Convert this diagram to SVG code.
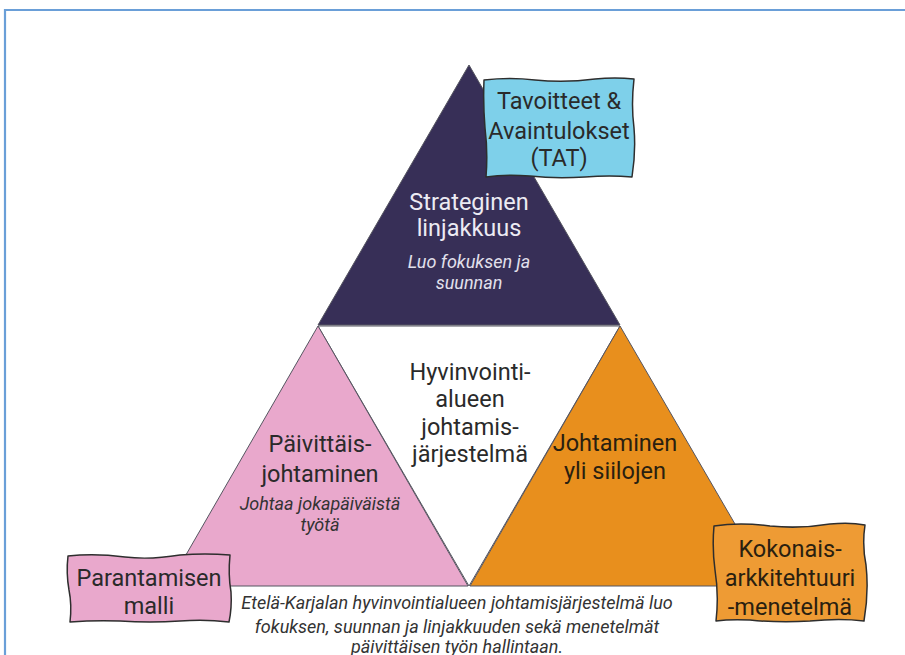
<svg xmlns="http://www.w3.org/2000/svg" width="905" height="655" viewBox="0 0 905 655">
<style>
.t{font-family:Roboto,"Liberation Sans",sans-serif;font-size:23.5px;text-anchor:middle;fill:#2a2a2a}
.w{fill:#ecebf3}
.i{font-family:Roboto,"Liberation Sans",sans-serif;font-style:italic;font-size:18px;text-anchor:middle;fill:#333}
.tri{stroke:#555560;stroke-width:1}
.box{stroke:#2e2e2e;stroke-width:1.5;stroke-linejoin:round}
</style>
<rect width="905" height="655" fill="#ffffff"/>
<path d="M5,655 L5,10 L905,10" fill="none" stroke="#6a9fd8" stroke-width="2.2"/>
<g id="strateginen">
<polygon class="tri" points="469,65 620,325 318,325" fill="#372f57"/>
<text class="t w" x="469" y="210">Strateginen</text>
<text class="t w" x="469" y="236">linjakkuus</text>
<text class="i" x="469" y="268" style="fill:#e2e0ec">Luo fokuksen ja</text>
<text class="i" x="469" y="289" style="fill:#e2e0ec">suunnan</text>
</g>
<g id="keskus">
<polygon class="tri" points="318,326 620,326 469,586" fill="#ffffff"/>
<text class="t" x="470" y="380">Hyvinvointi-</text>
<text class="t" x="470" y="407">alueen</text>
<text class="t" x="470" y="435">johtamis-</text>
<text class="t" x="470" y="462">järjestelmä</text>
</g>
<g id="paivittais">
<polygon class="tri" points="318,326 468,586 168,586" fill="#e9a8cc"/>
<text class="t" x="320" y="452">Päivittäis-</text>
<text class="t" x="320" y="482">johtaminen</text>
<text class="i" x="320" y="510">Johtaa jokapäiväistä</text>
<text class="i" x="320" y="531">työtä</text>
</g>
<g id="siilot">
<polygon class="tri" points="620,326 771,586 470,586" fill="#e88f1d"/>
<text class="t" x="615" y="451" style="fill:#2a1f10">Johtaminen</text>
<text class="t" x="615" y="479" style="fill:#2a1f10">yli siilojen</text>
</g>
<g id="tat">
<path class="box" d="M484,80 Q510,77 535,80 Q565,83 595,79 Q615,77 634,79 Q631,105 634,128 Q636,152 632,177 Q610,175 585,177 Q555,179 530,176 Q505,174 486,177 Q488,152 485,128 Q483,104 484,80 Z" fill="#7ed0ea"/>
<text class="t" x="559" y="109">Tavoitteet &amp;</text>
<text class="t" x="559" y="139">Avaintulokset</text>
<text class="t" x="559" y="166">(TAT)</text>
</g>
<g id="parantaminen">
<path class="box" d="M68,556 Q95,553 125,557 Q150,560 180,555 Q205,553 230,555 Q228,575 231,592 Q232,608 229,622 Q205,619 180,621 Q150,623 120,621 Q95,620 70,622 Q72,605 69,590 Q66,573 68,556 Z" fill="#e9a8cc"/>
<text class="t" x="149" y="586">Parantamisen</text>
<text class="t" x="149" y="614">malli</text>
</g>
<g id="kokonais">
<path class="box" d="M714,526 Q740,522 770,526 Q800,529 830,524 Q850,522 865,525 Q862,545 866,565 Q869,592 864,621 Q840,618 810,621 Q780,623 750,620 Q730,619 716,621 Q719,595 715,570 Q712,548 714,526 Z" fill="#ee9b34"/>
<text class="t" x="790" y="557" style="fill:#2a1f10">Kokonais-</text>
<text class="t" x="790" y="586" style="fill:#2a1f10">arkkitehtuuri</text>
<text class="t" x="790" y="615" style="fill:#2a1f10">-menetelmä</text>
</g>
<g id="kuvaus">
<text class="i" x="457" y="609">Etelä-Karjalan hyvinvointialueen johtamisjärjestelmä luo</text>
<text class="i" x="457" y="633">fokuksen, suunnan ja linjakkuuden sekä menetelmät</text>
<text class="i" x="457" y="653">päivittäisen työn hallintaan.</text>
</g>
<g id="connectors"></g>
</svg>
